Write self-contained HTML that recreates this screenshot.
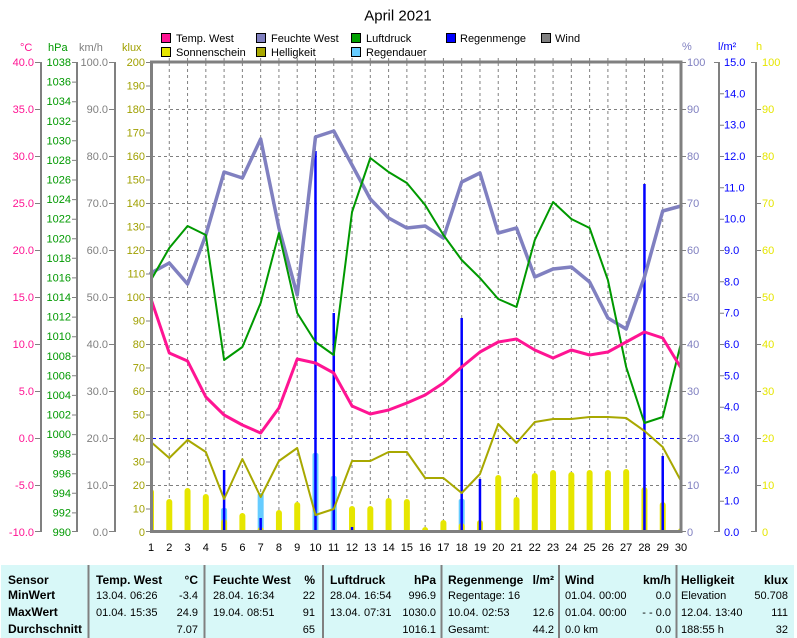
<!DOCTYPE html>
<html><head><meta charset="utf-8"><title>April 2021</title>
<style>
html,body{margin:0;padding:0;background:#fff;}
svg{display:block;}
text{font-family:"Liberation Sans",Arial,sans-serif;}
</style></head>
<body>
<svg width="797" height="638" viewBox="0 0 797 638" xmlns="http://www.w3.org/2000/svg">
<defs><clipPath id="pc"><rect x="151" y="62" width="530" height="469"/></clipPath></defs>
<rect width="797" height="638" fill="#fff"/>

<!-- title -->
<text x="398" y="20.5" font-size="15" text-anchor="middle" fill="#000">April 2021</text>

<!-- legend -->
<g font-size="11" fill="#000">
<rect x="161.5" y="33.5" width="9" height="9" fill="#ff1493" stroke="#000"/><text x="176" y="42">Temp. West</text>
<rect x="256.5" y="33.5" width="9" height="9" fill="#8080c0" stroke="#000"/><text x="271" y="42">Feuchte West</text>
<rect x="351.5" y="33.5" width="9" height="9" fill="#00a000" stroke="#000"/><text x="366" y="42">Luftdruck</text>
<rect x="446.5" y="33.5" width="9" height="9" fill="#0000ff" stroke="#000"/><text x="460" y="42">Regenmenge</text>
<rect x="541.5" y="33.5" width="9" height="9" fill="#808080" stroke="#000"/><text x="555" y="42">Wind</text>
<rect x="161.5" y="47.5" width="9" height="9" fill="#e6e600" stroke="#000"/><text x="176" y="56">Sonnenschein</text>
<rect x="256.5" y="47.5" width="9" height="9" fill="#a8a800" stroke="#000"/><text x="271" y="56">Helligkeit</text>
<rect x="351.5" y="47.5" width="9" height="9" fill="#66ccff" stroke="#000"/><text x="366" y="56">Regendauer</text>
</g>

<!-- unit labels -->
<g font-size="11">
<text x="20" y="51" fill="#ff1493">°C</text>
<text x="48" y="51" fill="#009900">hPa</text>
<text x="79" y="51" fill="#808080">km/h</text>
<text x="122" y="51" fill="#a0a000">klux</text>
<text x="682" y="50" fill="#8080c0">%</text>
<text x="718" y="50" fill="#0000ff">l/m²</text>
<text x="756" y="50" fill="#e6e600">h</text>
</g>

<!-- grid -->
<g stroke="#808080" stroke-width="1" stroke-dasharray="3,3" fill="none">
<path d="M169.28 63V531M187.55 63V531M205.83 63V531M224.1 63V531M242.38 63V531M260.66 63V531M278.93 63V531M297.21 63V531M315.48 63V531M333.76 63V531M352.03 63V531M370.31 63V531M388.59 63V531M406.86 63V531M425.14 63V531M443.41 63V531M461.69 63V531M479.97 63V531M498.24 63V531M516.52 63V531M534.79 63V531M553.07 63V531M571.34 63V531M589.62 63V531M607.9 63V531M626.17 63V531M644.45 63V531M662.72 63V531"/>
<path d="M152 109.5H680M152 156.5H680M152 203.5H680M152 250.5H680M152 297.5H680M152 344.5H680M152 391.5H680M152 485.5H680"/>
</g>
<path d="M152 438.5H680" stroke="#0000ff" stroke-width="1" stroke-dasharray="4,3"/>

<!-- bars -->
<g clip-path="url(#pc)">
<g fill="#66ccff">
<rect x="221.1" y="508" width="6" height="30" rx="2"/>
<rect x="257.66" y="493" width="6" height="45" rx="2"/>
<rect x="312.48" y="453" width="6" height="85" rx="2"/>
<rect x="330.76" y="476" width="6" height="62" rx="2"/>
<rect x="458.69" y="499" width="6" height="39" rx="2"/>
</g>
<g fill="#e6e600">
<rect x="148" y="489" width="6" height="50" rx="3"/>
<rect x="166.28" y="499" width="6" height="40" rx="3"/>
<rect x="184.55" y="488" width="6" height="51" rx="3"/>
<rect x="202.83" y="494" width="6" height="45" rx="3"/>
<rect x="221.1" y="519" width="6" height="20" rx="3"/>
<rect x="239.38" y="513" width="6" height="26" rx="3"/>
<rect x="257.66" y="527" width="6" height="12" rx="3"/>
<rect x="275.93" y="510" width="6" height="29" rx="3"/>
<rect x="294.21" y="502" width="6" height="37" rx="3"/>
<rect x="349.03" y="506" width="6" height="33" rx="3"/>
<rect x="367.31" y="506" width="6" height="33" rx="3"/>
<rect x="385.59" y="498" width="6" height="41" rx="3"/>
<rect x="403.86" y="499" width="6" height="40" rx="3"/>
<rect x="422.14" y="527" width="6" height="12" rx="3"/>
<rect x="440.41" y="520" width="6" height="19" rx="3"/>
<rect x="458.69" y="523" width="6" height="16" rx="3"/>
<rect x="476.97" y="520" width="6" height="19" rx="3"/>
<rect x="495.24" y="475" width="6" height="64" rx="3"/>
<rect x="513.52" y="497" width="6" height="42" rx="3"/>
<rect x="531.79" y="473" width="6" height="66" rx="3"/>
<rect x="550.07" y="470" width="6" height="69" rx="3"/>
<rect x="568.34" y="472" width="6" height="67" rx="3"/>
<rect x="586.62" y="470" width="6" height="69" rx="3"/>
<rect x="604.9" y="470" width="6" height="69" rx="3"/>
<rect x="623.17" y="469" width="6" height="70" rx="3"/>
<rect x="641.45" y="487" width="6" height="52" rx="3"/>
<rect x="659.72" y="502" width="6" height="37" rx="3"/>
<rect x="678" y="528" width="6" height="11" rx="3"/>
</g>
<g fill="#0000ff">
<rect x="222.85" y="470" width="2.5" height="68"/>
<rect x="259.41" y="518" width="2.5" height="20"/>
<rect x="314.23" y="151" width="2.5" height="387"/>
<rect x="332.51" y="313" width="2.5" height="225"/>
<rect x="350.78" y="527" width="2.5" height="11"/>
<rect x="460.44" y="318" width="2.5" height="220"/>
<rect x="478.72" y="479" width="2.5" height="59"/>
<rect x="643.2" y="184" width="2.5" height="354"/>
<rect x="661.47" y="456" width="2.5" height="82"/>
</g>
</g>

<!-- series lines -->
<g fill="none" stroke-linejoin="round" stroke-linecap="round">
<polyline stroke="#a8a800" stroke-width="2" points="151,442 169.28,458 187.55,440 205.83,452 224.1,499 242.38,459 260.66,497 278.93,461 297.21,448 315.48,515 333.76,509 352.03,461 370.31,461 388.59,452 406.86,452 425.14,478 443.41,478 461.69,493 479.97,474 498.24,424 516.52,443 534.79,422 553.07,419 571.34,419 589.62,417 607.9,417 626.17,418 644.45,431 662.72,447 681,481"/>
<polyline stroke="#8080c0" stroke-width="3.5" points="151,273 169.28,263 187.55,284 205.83,235 224.1,172 242.38,178 260.66,139 278.93,228 297.21,295 315.48,137 333.76,131 352.03,165 370.31,199 388.59,218 406.86,228 425.14,226 443.41,238 461.69,182 479.97,173 498.24,233 516.52,228 534.79,277 553.07,269 571.34,267 589.62,282 607.9,318 626.17,329 644.45,277 662.72,211 681,206"/>
<polyline stroke="#009900" stroke-width="2" points="151,280 169.28,248 187.55,226 205.83,235 224.1,360 242.38,347 260.66,303 278.93,233 297.21,313 315.48,342 333.76,355 352.03,212 370.31,158 388.59,172 406.86,183 425.14,205 443.41,235 461.69,260 479.97,278 498.24,299 516.52,307 534.79,240 553.07,202 571.34,219 589.62,228 607.9,280 626.17,367 644.45,423 662.72,417 681,343"/>
<polyline stroke="#ff1493" stroke-width="3" points="151,299 169.28,353 187.55,361 205.83,397 224.1,415 242.38,425 260.66,433 278.93,408 297.21,359 315.48,363 333.76,373 352.03,406 370.31,414 388.59,410 406.86,403 425.14,395 443.41,383 461.69,367 479.97,352 498.24,342 516.52,339 534.79,350 553.07,358 571.34,350 589.62,355 607.9,352 626.17,342 644.45,332 662.72,338 681,368"/>
</g>

<!-- plot border -->
<rect x="151.5" y="62" width="529.5" height="469.5" fill="none" stroke="#808080" stroke-width="3"/>
<path stroke="#808080" stroke-width="1" d="M169.28 58V62M187.55 58V62M205.83 58V62M224.1 58V62M242.38 58V62M260.66 58V62M278.93 58V62M297.21 58V62M315.48 58V62M333.76 58V62M352.03 58V62M370.31 58V62M388.59 58V62M406.86 58V62M425.14 58V62M443.41 58V62M461.69 58V62M479.97 58V62M498.24 58V62M516.52 58V62M534.79 58V62M553.07 58V62M571.34 58V62M589.62 58V62M607.9 58V62M626.17 58V62M644.45 58V62M662.72 58V62"/>

<!-- axis lines -->
<g stroke="#808080" stroke-width="2" fill="none">
<path d="M41 62V532M77 62V532M115 62V532M719 62V532M756 62V532"/>
</g>
<g stroke="#808080" stroke-width="1" fill="none">
<path d="M35 62.5h6M35 109.5h6M35 156.5h6M35 203.5h6M35 250.5h6M35 297.5h6M35 344.5h6M35 391.5h6M35 438.5h6M35 485.5h6M35 531.5h6"/>
<path d="M72 62.5h5M72 82.1h5M72 101.7h5M72 121.3h5M72 140.8h5M72 160.4h5M72 180h5M72 199.6h5M72 219.2h5M72 238.8h5M72 258.3h5M72 277.9h5M72 297.5h5M72 317.1h5M72 336.7h5M72 356.3h5M72 375.8h5M72 395.4h5M72 415h5M72 434.6h5M72 454.2h5M72 473.8h5M72 493.3h5M72 512.9h5M72 531.5h5"/>
<path d="M109 62.5h6M109 109.5h6M109 156.5h6M109 203.5h6M109 250.5h6M109 297.5h6M109 344.5h6M109 391.5h6M109 438.5h6M109 485.5h6M109 531.5h6"/>
<path d="M146 62.5h5M146 86h5M146 109.5h5M146 133h5M146 156.5h5M146 180h5M146 203.5h5M146 227h5M146 250.5h5M146 274h5M146 297.5h5M146 321h5M146 344.5h5M146 368h5M146 391.5h5M146 415h5M146 438.5h5M146 462h5M146 485.5h5M146 509h5M146 531.5h5"/>
<path d="M681 62.5h5M681 109.5h5M681 156.5h5M681 203.5h5M681 250.5h5M681 297.5h5M681 344.5h5M681 391.5h5M681 438.5h5M681 485.5h5M681 531.5h5"/>
<path d="M714 62.5h5M719 93.8h5M719 125.2h5M719 156.5h5M719 187.8h5M719 219.2h5M719 250.5h5M719 281.8h5M719 313.2h5M719 344.5h5M719 375.8h5M719 407.2h5M719 438.5h5M719 469.8h5M719 501.2h5M714 531.5h5"/>
<path d="M751 62.5h5M756 109.5h5M756 156.5h5M756 203.5h5M756 250.5h5M756 297.5h5M756 344.5h5M756 391.5h5M756 438.5h5M756 485.5h5M751 531.5h5"/>
</g>

<!-- left axis labels -->
<g font-size="11" text-anchor="end" fill="#ff1493">
<text x="34" y="66">40.0</text><text x="34" y="113">35.0</text><text x="34" y="160">30.0</text><text x="34" y="207">25.0</text><text x="34" y="254">20.0</text><text x="34" y="301">15.0</text><text x="34" y="348">10.0</text><text x="34" y="395">5.0</text><text x="34" y="442">0.0</text><text x="34" y="489">-5.0</text><text x="34" y="536">-10.0</text>
</g>
<g font-size="11" text-anchor="end" fill="#009900">
<text x="71" y="66">1038</text><text x="71" y="85.6">1036</text><text x="71" y="105.2">1034</text><text x="71" y="124.8">1032</text><text x="71" y="144.3">1030</text><text x="71" y="163.9">1028</text><text x="71" y="183.5">1026</text><text x="71" y="203.1">1024</text><text x="71" y="222.7">1022</text><text x="71" y="242.3">1020</text><text x="71" y="261.8">1018</text><text x="71" y="281.4">1016</text><text x="71" y="301">1014</text><text x="71" y="320.6">1012</text><text x="71" y="340.2">1010</text><text x="71" y="359.8">1008</text><text x="71" y="379.3">1006</text><text x="71" y="398.9">1004</text><text x="71" y="418.5">1002</text><text x="71" y="438.1">1000</text><text x="71" y="457.7">998</text><text x="71" y="477.3">996</text><text x="71" y="496.8">994</text><text x="71" y="516.4">992</text><text x="71" y="536">990</text>
</g>
<g font-size="11" text-anchor="end" fill="#808080">
<text x="108" y="66">100.0</text><text x="108" y="113">90.0</text><text x="108" y="160">80.0</text><text x="108" y="207">70.0</text><text x="108" y="254">60.0</text><text x="108" y="301">50.0</text><text x="108" y="348">40.0</text><text x="108" y="395">30.0</text><text x="108" y="442">20.0</text><text x="108" y="489">10.0</text><text x="108" y="536">0.0</text>
</g>
<g font-size="11" text-anchor="end" fill="#a0a000">
<text x="145" y="66">200</text><text x="145" y="89.5">190</text><text x="145" y="113">180</text><text x="145" y="136.5">170</text><text x="145" y="160">160</text><text x="145" y="183.5">150</text><text x="145" y="207">140</text><text x="145" y="230.5">130</text><text x="145" y="254">120</text><text x="145" y="277.5">110</text><text x="145" y="301">100</text><text x="145" y="324.5">90</text><text x="145" y="348">80</text><text x="145" y="371.5">70</text><text x="145" y="395">60</text><text x="145" y="418.5">50</text><text x="145" y="442">40</text><text x="145" y="465.5">30</text><text x="145" y="489">20</text><text x="145" y="512.5">10</text><text x="145" y="536">0</text>
</g>

<!-- right axis labels -->
<g font-size="11" fill="#8080c0">
<text x="687" y="66">100</text><text x="687" y="113">90</text><text x="687" y="160">80</text><text x="687" y="207">70</text><text x="687" y="254">60</text><text x="687" y="301">50</text><text x="687" y="348">40</text><text x="687" y="395">30</text><text x="687" y="442">20</text><text x="687" y="489">10</text><text x="687" y="536">0</text>
</g>
<g font-size="11" fill="#0000ff">
<text x="724" y="66">15.0</text><text x="724" y="97.3">14.0</text><text x="724" y="128.7">13.0</text><text x="724" y="160">12.0</text><text x="724" y="191.3">11.0</text><text x="724" y="222.7">10.0</text><text x="724" y="254">9.0</text><text x="724" y="285.3">8.0</text><text x="724" y="316.7">7.0</text><text x="724" y="348">6.0</text><text x="724" y="379.3">5.0</text><text x="724" y="410.7">4.0</text><text x="724" y="442">3.0</text><text x="724" y="473.3">2.0</text><text x="724" y="504.7">1.0</text><text x="724" y="536">0.0</text>
</g>
<g font-size="11" fill="#e6e600">
<text x="762" y="66">100</text><text x="762" y="113">90</text><text x="762" y="160">80</text><text x="762" y="207">70</text><text x="762" y="254">60</text><text x="762" y="301">50</text><text x="762" y="348">40</text><text x="762" y="395">30</text><text x="762" y="442">20</text><text x="762" y="489">10</text><text x="762" y="536">0</text>
</g>

<!-- x labels -->
<g font-size="11" text-anchor="middle" fill="#000">
<text x="151" y="551">1</text><text x="169.28" y="551">2</text><text x="187.55" y="551">3</text><text x="205.83" y="551">4</text><text x="224.1" y="551">5</text><text x="242.38" y="551">6</text><text x="260.66" y="551">7</text><text x="278.93" y="551">8</text><text x="297.21" y="551">9</text><text x="315.48" y="551">10</text><text x="333.76" y="551">11</text><text x="352.03" y="551">12</text><text x="370.31" y="551">13</text><text x="388.59" y="551">14</text><text x="406.86" y="551">15</text><text x="425.14" y="551">16</text><text x="443.41" y="551">17</text><text x="461.69" y="551">18</text><text x="479.97" y="551">19</text><text x="498.24" y="551">20</text><text x="516.52" y="551">21</text><text x="534.79" y="551">22</text><text x="553.07" y="551">23</text><text x="571.34" y="551">24</text><text x="589.62" y="551">25</text><text x="607.9" y="551">26</text><text x="626.17" y="551">27</text><text x="644.45" y="551">28</text><text x="662.72" y="551">29</text><text x="681" y="551">30</text>
</g>

<!-- table -->
<rect x="1" y="565" width="793" height="73" fill="#d8f8f8"/>
<g stroke="#808080" stroke-width="2">
<path d="M88.5 565V638M204.5 565V638M323 565V638M441.5 565V638M559 565V638M676.5 565V638"/>
</g>
<g font-size="12" font-weight="bold" fill="#000">
<text x="8" y="584">Sensor</text>
<text x="8" y="599">MinWert</text>
<text x="8" y="616">MaxWert</text>
<text x="8" y="633">Durchschnitt</text>
<text x="96" y="584">Temp. West</text><text x="198" y="584" text-anchor="end">°C</text>
<text x="213" y="584">Feuchte West</text><text x="315" y="584" text-anchor="end">%</text>
<text x="330" y="584">Luftdruck</text><text x="436" y="584" text-anchor="end">hPa</text>
<text x="448" y="584">Regenmenge</text><text x="554" y="584" text-anchor="end">l/m²</text>
<text x="565" y="584">Wind</text><text x="671" y="584" text-anchor="end">km/h</text>
<text x="681" y="584">Helligkeit</text><text x="788" y="584" text-anchor="end">klux</text>
</g>
<g font-size="11" fill="#000">
<text x="96" y="599">13.04.</text><text x="130" y="599">06:26</text><text x="198" y="599" text-anchor="end">-3.4</text>
<text x="96" y="616">01.04.</text><text x="130" y="616">15:35</text><text x="198" y="616" text-anchor="end">24.9</text>
<text x="198" y="633" text-anchor="end">7.07</text>

<text x="213" y="599">28.04.</text><text x="247" y="599">16:34</text><text x="315" y="599" text-anchor="end">22</text>
<text x="213" y="616">19.04.</text><text x="247" y="616">08:51</text><text x="315" y="616" text-anchor="end">91</text>
<text x="315" y="633" text-anchor="end">65</text>

<text x="330" y="599">28.04.</text><text x="364" y="599">16:54</text><text x="436" y="599" text-anchor="end">996.9</text>
<text x="330" y="616">13.04.</text><text x="364" y="616">07:31</text><text x="436" y="616" text-anchor="end">1030.0</text>
<text x="436" y="633" text-anchor="end">1016.1</text>

<text x="448" y="599">Regentage: 16</text>
<text x="448" y="616">10.04.</text><text x="482" y="616">02:53</text><text x="554" y="616" text-anchor="end">12.6</text>
<text x="448" y="633">Gesamt:</text><text x="554" y="633" text-anchor="end">44.2</text>

<text x="565" y="599">01.04.</text><text x="599" y="599">00:00</text><text x="671" y="599" text-anchor="end">0.0</text>
<text x="565" y="616">01.04.</text><text x="599" y="616">00:00</text><text x="671" y="616" text-anchor="end">- - 0.0</text>
<text x="565" y="633">0.0 km</text><text x="671" y="633" text-anchor="end">0.0</text>

<text x="681" y="599">Elevation</text><text x="788" y="599" text-anchor="end">50.708</text>
<text x="681" y="616">12.04.</text><text x="715" y="616">13:40</text><text x="788" y="616" text-anchor="end">111</text>
<text x="681" y="633">188:55 h</text><text x="788" y="633" text-anchor="end">32</text>
</g>
</svg>
</body></html>
